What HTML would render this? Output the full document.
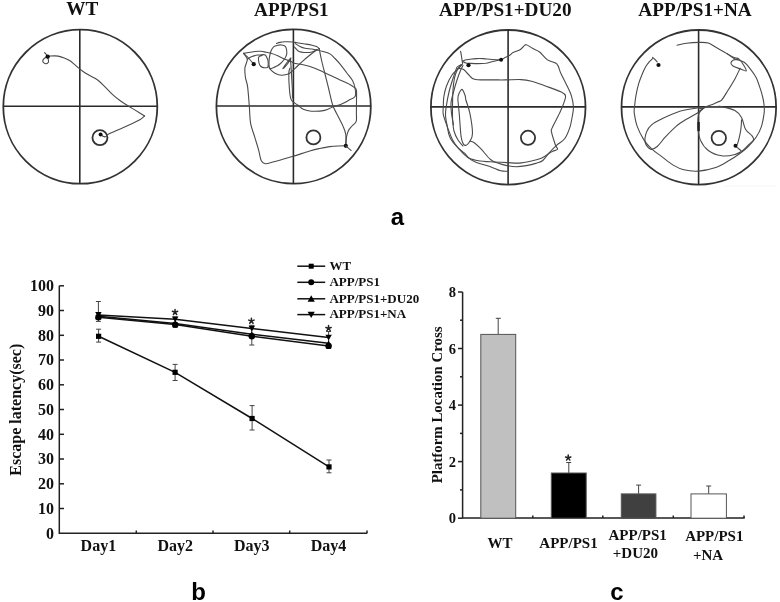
<!DOCTYPE html>
<html><head><meta charset="utf-8">
<style>
html,body{margin:0;padding:0;background:#fff;width:780px;height:602px;overflow:hidden}
svg{display:block;will-change:transform}
.t{font-family:"Liberation Serif",serif;font-weight:bold;fill:#111}
.s{font-family:"Liberation Sans",sans-serif;font-weight:bold;fill:#000}
.ax{stroke:#222;stroke-width:1.5;fill:none}
.cir{stroke:#333;stroke-width:1.8;fill:none}
.q{stroke:#2a2a2a;stroke-width:1.6;fill:none}
.tr{stroke:#4a4a4a;stroke-width:1.1;fill:none;stroke-linejoin:round;stroke-linecap:round}
.ln{stroke:#111;stroke-width:1.5;fill:none}
.eb{stroke:#444;stroke-width:1;fill:none}
</style></head><body>
<svg width="780" height="602" viewBox="0 0 780 602">
<text class="t" x="82.2" y="14.7" font-size="19.2" text-anchor="middle">WT</text>
<text class="t" x="291.4" y="15.8" font-size="19.2" text-anchor="middle">APP/PS1</text>
<text class="t" x="505.3" y="15.8" font-size="19.2" text-anchor="middle">APP/PS1+DU20</text>
<text class="t" x="695" y="15.8" font-size="19.2" text-anchor="middle">APP/PS1+NA</text>
<g>
<circle class="cir" cx="80.3" cy="106.7" r="77"/>
<line class="q" x1="3.299999999999997" y1="106.2" x2="157.3" y2="106.2"/>
<line class="q" x1="79.8" y1="29.700000000000003" x2="79.8" y2="183.7"/>
<circle class="cir" cx="99.95" cy="137.7" r="7.5" stroke-width="1.9"/>
<path class="tr" d="M44.6 52.6 C44.9 52.9 45.8 54.0 46.3 54.6 C46.8 55.2 47.5 56.2 47.7 56.5" />
<path class="tr" d="M47.5 56.8 C47.0 57.0 45.3 57.7 44.5 58.3 C43.7 58.9 42.9 59.9 42.8 60.6 C42.6 61.3 43.0 62.2 43.6 62.7 C44.2 63.2 45.4 63.9 46.2 63.8 C47.0 63.7 48.0 63.0 48.4 62.3 C48.8 61.6 48.4 60.5 48.3 59.6 C48.2 58.8 47.7 57.6 47.6 57.2" />
<path class="tr" d="M48.5 56.4 C48.8 56.3 49.5 56.1 50.4 56.0 C51.3 55.9 52.7 55.9 54.0 55.9 C55.3 55.9 56.4 55.8 58.1 56.1 C59.8 56.5 62.3 57.3 64.2 58.0 C66.1 58.7 67.9 59.5 69.6 60.5 C71.3 61.5 72.8 63.0 74.2 64.2 C75.6 65.4 76.7 66.5 78.1 67.7 C79.5 68.9 80.9 70.0 82.7 71.2 C84.5 72.4 86.8 73.8 88.8 75.0 C90.8 76.2 93.2 77.2 95.0 78.3 C96.8 79.4 97.8 80.1 99.5 81.5 C101.2 82.9 102.8 84.7 105.0 86.8 C107.2 88.9 109.9 92.0 112.4 94.3 C114.9 96.6 117.4 98.6 119.9 100.5 C122.4 102.4 124.9 103.9 127.4 105.5 C129.9 107.1 131.9 108.2 134.8 109.9 C137.7 111.7 143.0 115.0 144.6 116.0" />
<path class="tr" d="M144.6 116.0 C143.8 116.6 141.9 118.5 139.8 119.8 C137.8 121.0 135.2 122.2 132.3 123.5 C129.4 124.8 125.3 126.6 122.4 127.9 C119.5 129.2 117.2 130.3 114.9 131.3 C112.6 132.3 110.3 133.1 108.7 134.0 C107.1 134.9 106.5 136.4 105.5 136.8 C104.5 137.2 103.6 136.6 102.8 136.2 C102.0 135.8 101.0 134.9 100.6 134.6" />
<circle cx="47.7" cy="56.6" r="2.2" fill="#111"/>
<circle cx="100.6" cy="134.5" r="2.0" fill="#111"/>
</g>
<g>
<circle class="cir" cx="293.6" cy="106.5" r="77.2"/>
<line class="q" x1="216.40000000000003" y1="106.0" x2="370.8" y2="106.0"/>
<line class="q" x1="293.4" y1="29.299999999999997" x2="293.4" y2="183.7"/>
<circle class="cir" cx="313.4" cy="137.4" r="7.0" stroke-width="1.6"/>
<path class="tr" d="M345.8 145.8 C344.5 145.8 340.6 145.9 338.0 146.0 C335.4 146.1 333.1 146.2 329.9 146.6 C326.7 147.0 322.4 147.9 319.0 148.6 C315.6 149.3 314.0 149.7 309.7 151.0 C305.4 152.3 297.7 154.9 293.1 156.3 C288.5 157.7 285.2 158.6 282.0 159.5 C278.8 160.4 276.7 161.1 273.9 161.8 C271.1 162.5 267.3 164.0 265.2 163.8 C263.1 163.6 262.3 162.8 261.2 160.5 C260.1 158.2 259.7 153.9 258.6 149.9 C257.5 145.9 255.9 141.0 254.6 136.6 C253.3 132.2 251.5 128.4 250.6 123.3 C249.7 118.2 249.8 111.9 249.3 105.8 C248.8 99.7 248.2 91.3 247.6 86.6 C246.9 81.8 245.8 80.4 245.4 77.3 C245.0 74.2 244.6 71.0 244.9 68.0 C245.2 65.0 247.5 61.7 247.3 59.3 C247.1 56.9 244.2 54.4 243.6 53.4" />
<path class="tr" d="M243.6 53.4 C244.7 53.2 248.1 52.6 250.0 52.3 C251.9 52.0 253.2 51.7 255.0 51.5 C256.8 51.3 259.2 51.2 261.0 51.3 C262.8 51.4 264.3 51.9 266.0 52.2 C267.7 52.5 268.9 52.7 271.0 53.3 C273.1 53.9 276.0 55.0 278.3 56.0 C280.6 57.0 282.8 58.4 284.9 59.3 C287.0 60.2 289.4 60.6 290.9 61.3 C292.4 61.9 292.1 62.7 294.0 63.2 C295.9 63.7 299.3 64.0 302.0 64.5 C304.7 65.0 307.0 65.5 310.0 66.5 C313.0 67.5 316.7 69.0 320.0 70.5 C323.3 72.0 326.6 73.6 329.9 75.2 C333.2 76.8 336.7 78.5 340.0 80.0 C343.3 81.5 347.5 83.3 349.8 84.5 C352.1 85.7 352.7 86.2 353.8 87.1 C354.9 88.0 355.9 87.8 356.4 90.0 C356.8 92.2 356.5 96.3 356.5 100.0 C356.5 103.7 356.4 108.5 356.4 112.0 C356.3 115.5 356.9 119.0 356.2 121.3 C355.5 123.6 353.3 124.5 352.0 126.0 C350.7 127.5 349.4 128.7 348.5 130.6 C347.6 132.5 346.9 134.7 346.5 137.2 C346.1 139.7 345.9 144.4 345.8 145.8" />
<path class="tr" d="M243.6 53.4 C244.3 54.1 246.7 56.1 248.0 57.5 C249.3 58.9 250.6 60.4 251.5 61.5 C252.4 62.6 253.3 63.8 253.7 64.2" />
<path class="tr" d="M247.3 59.3 C248.1 58.8 250.2 57.2 252.0 56.5 C253.8 55.8 256.3 55.2 258.0 55.0 C259.7 54.8 261.3 55.4 262.0 55.5" />
<path class="tr" d="M262.0 55.5 C261.4 55.8 259.1 56.1 258.6 57.3 C258.1 58.5 258.6 61.0 258.9 62.5 C259.2 64.0 259.7 65.2 260.5 66.0 C261.3 66.8 262.3 67.4 263.5 67.6 C264.7 67.8 266.8 68.1 267.6 67.3 C268.4 66.5 268.2 64.3 268.2 63.0 C268.2 61.7 268.1 60.6 267.6 59.3 C267.1 58.0 266.4 55.8 265.3 55.0 C264.2 54.2 261.7 54.8 261.0 54.8" />
<path class="tr" d="M269.3 58.0 C269.6 56.9 270.1 53.4 270.8 51.5 C271.5 49.6 272.4 47.9 273.6 46.9 C274.8 45.9 276.7 45.5 278.0 45.2 C279.3 44.9 280.4 44.8 281.6 45.0 C282.8 45.2 284.5 45.5 285.3 46.3 C286.1 47.1 286.4 48.6 286.6 50.0 C286.8 51.4 287.0 53.1 286.6 54.6 C286.2 56.1 285.3 57.8 284.3 59.3 C283.3 60.8 281.7 62.4 280.5 63.5 C279.3 64.6 278.7 65.1 277.0 65.9 C275.3 66.8 271.6 68.8 270.3 68.6 C269.0 68.4 269.2 66.4 269.0 64.6 C268.8 62.8 269.2 59.1 269.3 58.0" />
<path class="tr" d="M268.5 66.0 C268.8 66.6 269.2 68.2 270.3 69.4 C271.4 70.6 273.1 72.2 275.0 73.2 C276.9 74.2 279.4 75.1 281.6 75.2 C283.8 75.3 286.4 74.8 288.2 74.1 C290.0 73.4 290.9 72.3 292.2 71.2 C293.5 70.1 294.1 69.3 296.0 67.5 C297.9 65.7 301.0 62.7 303.3 60.6 C305.6 58.5 307.8 56.8 310.0 55.0 C312.2 53.2 315.5 50.8 316.6 50.0" />
<path class="tr" d="M282.9 68.6 C283.3 67.9 284.5 65.9 285.5 64.5 C286.5 63.1 288.1 61.1 289.0 60.0 C289.9 58.9 291.0 57.6 290.9 58.0 C290.8 58.4 289.6 60.9 288.5 62.5 C287.4 64.1 285.4 66.5 284.5 67.5 C283.6 68.5 283.2 68.4 282.9 68.6" />
<path class="tr" d="M276.5 43.5 C277.1 43.3 278.6 42.7 280.0 42.4 C281.4 42.1 282.8 41.9 284.9 41.8 C287.0 41.7 290.9 41.8 292.9 42.0 C294.9 42.2 295.0 42.5 297.0 42.8 C299.0 43.1 302.5 43.6 305.0 44.0 C307.5 44.4 310.1 44.8 312.0 45.2 C313.9 45.6 315.4 46.0 316.6 46.6 C317.8 47.2 318.8 48.3 319.2 48.6" />
<path class="tr" d="M295.3 43.6 C296.1 44.1 298.4 45.7 300.0 46.5 C301.6 47.3 303.0 47.9 305.0 48.3 C307.0 48.7 310.1 48.7 312.0 49.0 C313.9 49.3 315.4 50.1 316.6 50.0 C317.8 49.9 318.8 48.8 319.2 48.6" />
<path class="tr" d="M294.5 47.0 C295.2 47.8 297.2 50.6 299.0 51.5 C300.8 52.4 302.8 52.4 305.0 52.5 C307.2 52.6 309.9 52.5 312.0 52.0 C314.1 51.5 316.6 49.9 317.5 49.5" />
<path class="tr" d="M319.2 48.6 C319.6 50.5 320.6 56.0 321.5 60.0 C322.4 64.0 323.4 67.8 324.6 72.5 C325.8 77.2 327.2 82.7 328.5 88.0 C329.8 93.3 331.2 100.2 332.5 104.4 C333.8 108.6 334.7 109.6 336.5 113.3 C338.3 117.0 341.6 123.0 343.2 126.6 C344.8 130.2 345.4 131.4 345.8 134.6 C346.2 137.8 345.8 143.9 345.8 145.8" />
<path class="tr" d="M316.6 50.0 C317.7 50.2 320.8 50.9 323.0 51.5 C325.2 52.1 327.9 52.7 329.9 53.9 C331.9 55.1 333.2 56.7 335.0 58.5 C336.8 60.3 338.6 62.3 340.5 64.6 C342.4 66.9 344.5 69.8 346.5 72.5 C348.5 75.2 351.1 77.8 352.5 80.5 C353.9 83.2 354.7 85.8 355.1 88.5 C355.5 91.2 356.2 94.4 355.1 96.4 C354.0 98.4 350.9 99.1 348.5 100.4 C346.1 101.8 342.9 103.5 340.5 104.5 C338.1 105.5 336.5 105.4 333.9 106.4 C331.2 107.4 328.4 109.6 324.6 110.4 C320.8 111.2 314.9 111.4 311.3 111.2 C307.8 111.0 305.5 110.3 303.3 109.3 C301.1 108.3 300.0 106.9 298.0 105.3 C296.0 103.7 292.8 102.5 291.4 99.9 C290.0 97.4 289.9 94.4 289.5 90.0 C289.1 85.6 288.7 77.0 288.8 73.3 C288.9 69.6 289.8 68.9 290.0 68.0" />
<path class="tr" d="M290.5 58.5 C290.6 59.8 290.8 63.2 291.0 66.0 C291.2 68.8 291.3 71.3 291.5 75.0 C291.7 78.7 292.1 84.2 292.3 88.0 C292.5 91.8 292.5 96.3 292.5 98.0" />
<circle cx="253.7" cy="64.2" r="2.1" fill="#111"/>
<circle cx="345.8" cy="145.8" r="2.1" fill="#111"/>
<path class="tr" d="M345.8 145.8 C346.2 146.2 347.6 147.4 348.5 148.2 C349.4 149.0 350.7 150.1 351.1 150.5" />
</g>
<g>
<circle class="cir" cx="508.2" cy="107.3" r="77.3"/>
<line class="q" x1="430.9" y1="106.9" x2="585.5" y2="106.9"/>
<line class="q" x1="508.1" y1="30.0" x2="508.1" y2="184.6"/>
<circle class="cir" cx="528.0" cy="137.8" r="7.1" stroke-width="1.6"/>
<path class="tr" d="M460.6 51.3 C460.8 52.2 461.3 54.9 461.6 57.0 C461.9 59.1 462.4 62.8 462.6 63.9" />
<path class="tr" d="M462.6 61.3 C463.2 61.0 464.8 60.1 466.0 59.8 C467.2 59.5 468.2 59.5 469.9 59.3 C471.6 59.1 473.8 58.7 476.0 58.6 C478.2 58.5 480.5 58.5 483.2 58.6 C485.9 58.8 489.0 59.3 492.0 59.5 C495.0 59.7 498.9 60.0 501.1 59.7 C503.3 59.4 503.6 58.2 505.0 57.5 C506.4 56.8 508.4 56.1 509.7 55.3 C511.0 54.5 511.4 53.5 513.0 52.6 C514.6 51.7 517.9 50.9 519.6 50.0 C521.3 49.1 521.9 47.9 523.0 47.0 C524.1 46.1 524.6 44.4 526.3 44.7 C527.9 45.0 530.7 47.4 532.9 48.6 C535.1 49.8 537.2 50.1 539.6 52.0 C542.0 53.9 544.6 57.9 547.5 59.9 C550.4 61.9 554.6 61.7 556.8 63.9 C559.0 66.1 559.2 69.9 560.8 73.2 C562.3 76.5 564.3 80.1 566.1 83.9 C567.9 87.7 570.2 92.0 571.4 95.8 C572.6 99.5 573.2 103.5 573.4 106.4 C573.6 109.3 573.3 109.9 572.8 113.3 C572.2 116.7 571.4 122.4 570.1 126.6 C568.8 130.8 567.0 135.4 564.8 138.5 C562.6 141.6 559.4 142.8 556.8 145.2 C554.1 147.6 551.2 150.6 548.9 153.2 C546.6 155.8 544.8 158.8 542.8 160.5 C540.8 162.2 539.4 162.2 536.7 163.1 C534.0 163.9 529.8 165.0 526.4 165.6 C523.0 166.2 519.5 166.7 516.2 166.7 C513.0 166.7 510.0 166.2 506.9 165.6 C503.8 165.0 500.4 164.1 497.7 163.1 C495.0 162.1 493.4 162.0 490.5 159.5 C487.6 157.0 483.1 151.0 480.3 148.2 C477.5 145.4 475.6 143.7 473.9 142.5 C472.2 141.3 470.6 141.4 469.9 141.2" />
<path class="tr" d="M462.6 61.3 C463.2 61.6 464.8 62.7 466.0 63.0 C467.2 63.3 467.9 63.2 469.9 63.3 C471.9 63.4 475.4 63.6 478.0 63.6 C480.6 63.6 483.3 63.6 485.8 63.3 C488.3 62.9 490.4 62.1 493.0 61.5 C495.6 60.9 499.8 60.0 501.1 59.7" />
<path class="tr" d="M461.5 64.5 C460.7 65.1 456.3 67.1 456.6 67.9 C456.9 68.7 461.3 68.2 463.2 69.2 C465.1 70.2 466.4 72.5 468.0 74.0 C469.6 75.5 470.8 77.5 472.5 78.5 C474.2 79.5 476.2 79.6 478.0 79.8 C479.8 80.0 480.4 79.9 483.2 79.9 C486.0 79.9 491.4 79.9 495.0 79.9 C498.6 79.9 500.7 80.0 505.0 79.9 C509.3 79.9 516.6 79.4 521.0 79.6 C525.4 79.8 527.6 80.2 531.6 81.2 C535.6 82.2 540.0 84.0 544.9 85.8 C549.8 87.6 557.4 90.1 560.8 91.8 C564.2 93.5 565.0 93.8 565.5 95.8 C566.0 97.8 564.3 101.4 563.5 103.8 C562.7 106.2 561.7 108.4 560.8 110.4 C559.9 112.4 559.6 113.0 558.2 115.9 C556.8 118.8 553.3 125.2 552.2 127.9 C551.1 130.6 551.0 129.0 551.5 131.9 C552.0 134.8 554.5 142.3 555.5 145.2 C556.5 148.1 558.0 148.2 557.5 149.2 C557.0 150.2 554.0 150.6 552.8 151.2 C551.5 151.8 551.8 151.7 550.0 152.8 C548.2 153.9 544.9 156.6 541.8 158.0 C538.7 159.4 535.3 160.2 531.5 161.0 C527.7 161.8 523.3 162.8 519.2 163.1 C515.1 163.4 511.7 162.8 506.9 162.6 C502.1 162.4 494.9 162.1 490.5 161.8 C486.1 161.5 483.7 161.6 480.3 161.0 C476.9 160.4 472.5 159.8 469.9 158.5 C467.3 157.2 466.8 155.2 464.6 153.2 C462.4 151.2 459.1 149.2 456.6 146.5 C454.2 143.8 451.4 140.5 449.9 137.2 C448.3 133.9 448.0 130.3 447.3 126.6 C446.6 122.9 445.6 118.6 445.5 115.0 C445.4 111.4 445.9 108.8 446.5 105.0 C447.1 101.2 448.0 96.2 449.0 92.0 C450.0 87.8 451.2 84.0 452.5 80.0 C453.8 76.0 455.9 69.9 456.6 67.9" />
<path class="tr" d="M462.5 64.0 C461.8 64.8 460.2 66.7 458.5 68.5 C456.8 70.3 454.0 72.1 452.0 75.0 C450.0 77.9 447.9 82.3 446.5 86.0 C445.1 89.7 444.3 93.6 443.8 97.0 C443.3 100.4 443.4 103.7 443.3 106.6 C443.2 109.5 442.6 111.3 443.3 114.6 C444.0 117.9 445.8 122.4 447.3 126.6 C448.9 130.8 450.6 136.1 452.6 139.9 C454.6 143.7 456.8 146.3 459.2 149.2 C461.6 152.1 464.3 154.9 467.2 157.1 C470.1 159.3 472.7 160.9 476.5 162.5 C480.3 164.1 485.8 165.0 489.8 166.4 C493.9 167.8 497.8 170.0 500.8 170.8 C503.8 171.6 506.8 171.2 508.0 171.3" />
<path class="tr" d="M461.0 65.0 C460.4 65.8 458.6 67.3 457.5 69.5 C456.4 71.7 455.2 74.6 454.5 78.0 C453.8 81.4 453.3 85.5 453.0 90.0 C452.7 94.5 452.6 100.0 452.5 105.0 C452.4 110.0 452.4 115.4 452.6 119.7 C452.9 124.0 453.1 127.6 454.0 131.0 C454.9 134.4 456.5 137.5 458.0 140.0 C459.5 142.5 462.2 145.0 463.0 146.0" />
<path class="tr" d="M463.0 65.5 C462.6 66.3 461.5 68.1 460.5 70.5 C459.5 72.9 458.2 76.4 457.0 80.0 C455.8 83.6 454.5 88.2 453.5 92.0 C452.5 95.8 451.3 99.5 451.0 103.0 C450.7 106.5 451.1 109.6 451.5 113.3 C451.9 117.0 453.2 123.0 453.5 125.0" />
<path class="tr" d="M457.9 100.0 C457.9 99.3 457.8 97.4 458.2 95.8 C458.6 94.2 459.9 91.5 460.6 90.5 C461.3 89.5 461.8 88.9 462.6 89.8 C463.4 90.7 464.6 94.1 465.2 95.8 C465.8 97.5 465.1 97.1 465.9 100.0 C466.7 102.9 468.8 107.8 469.9 113.3 C471.0 118.8 472.5 128.5 472.5 133.2 C472.5 137.8 471.2 139.2 469.9 141.2 C468.6 143.2 466.1 145.9 464.6 145.2 C463.2 144.5 462.1 142.5 461.2 137.2 C460.3 131.9 459.8 119.5 459.2 113.3 C458.6 107.1 458.1 102.2 457.9 100.0" />
<circle cx="468.5" cy="65.2" r="2.1" fill="#111"/>
<circle cx="501.1" cy="59.7" r="2.0" fill="#111"/>
</g>
<g>
<circle class="cir" cx="698.8" cy="107.3" r="77.3"/>
<line class="q" x1="621.5" y1="106.9" x2="776.0999999999999" y2="106.9"/>
<line class="q" x1="698.6" y1="30.0" x2="698.6" y2="184.6"/>
<circle class="cir" cx="718.8" cy="138.0" r="7.2" stroke-width="1.6"/>
<path class="tr" d="M652.6 57.3 C653.0 57.7 654.2 58.7 655.0 59.5 C655.8 60.3 656.8 61.5 657.2 61.9" />
<path class="tr" d="M652.6 58.6 C652.0 59.1 650.4 60.5 649.2 61.9 C648.0 63.3 646.6 65.1 645.5 67.0 C644.4 68.9 643.8 70.4 642.6 73.2 C641.5 76.0 639.7 80.1 638.6 83.9 C637.5 87.7 636.6 92.0 635.9 95.8 C635.2 99.5 634.9 103.5 634.6 106.4 C634.3 109.3 633.8 109.9 634.3 113.3 C634.8 116.7 635.7 122.2 637.3 126.6 C638.9 131.0 641.5 136.1 643.9 139.9 C646.3 143.7 648.8 146.3 651.9 149.2 C655.0 152.1 659.0 154.4 662.5 157.1 C666.0 159.8 669.7 163.0 673.2 165.1 C676.8 167.2 679.6 168.8 683.8 169.8 C688.0 170.8 693.2 171.4 698.4 171.1 C703.6 170.8 709.9 169.5 714.9 167.8 C719.9 166.1 724.0 163.5 728.2 161.1 C732.4 158.7 736.9 155.6 740.2 153.2 C743.5 150.8 745.6 149.2 748.2 146.5 C750.9 143.8 753.9 140.5 756.1 137.2 C758.3 133.9 760.1 130.6 761.4 126.6 C762.7 122.6 763.6 116.8 764.1 113.3 C764.6 109.8 764.3 108.0 764.1 105.4 C763.9 102.8 763.5 100.4 762.8 97.5 C762.1 94.6 761.2 91.5 760.1 88.2 C759.0 84.9 757.7 80.6 756.1 77.5 C754.5 74.4 752.8 72.1 750.8 69.6 C748.8 67.0 746.9 64.0 744.2 62.2 C741.6 60.4 737.8 60.3 734.9 58.9 C732.0 57.5 730.0 55.5 726.9 53.6 C723.8 51.7 719.4 49.4 716.3 47.6 C713.2 45.8 711.2 43.9 708.3 43.0 C705.4 42.1 702.6 42.4 699.0 42.4 C695.4 42.4 690.0 42.8 686.4 43.3 C682.8 43.8 678.6 45.0 677.1 45.3" />
<path class="tr" d="M726.9 53.6 C728.1 54.2 732.0 56.6 734.0 57.5 C736.0 58.4 737.3 57.6 738.9 58.9 C740.5 60.1 742.3 63.0 743.5 65.0 C744.7 67.0 746.8 70.2 746.2 70.9 C745.7 71.6 742.4 69.7 740.2 68.9 C738.0 68.1 734.5 67.0 733.0 66.0 C731.5 65.0 730.8 63.9 730.9 62.9 C731.0 61.9 732.2 60.7 733.5 60.0 C734.8 59.3 738.0 59.1 738.9 58.9" />
<path class="tr" d="M740.2 68.2 C739.3 70.0 737.1 74.9 734.9 78.9 C732.7 82.9 729.1 88.6 726.9 92.1 C724.7 95.6 723.1 98.4 721.6 100.1 C720.1 101.8 718.9 101.4 717.6 102.1 C716.3 102.8 715.6 103.3 713.6 104.1 C711.6 104.9 707.8 106.1 705.6 106.8 C703.4 107.5 701.7 108.2 700.3 108.4 C698.9 108.6 700.5 107.5 697.1 108.0 C693.7 108.5 685.6 109.5 679.8 111.3 C674.0 113.1 667.1 116.4 662.5 118.6 C657.9 120.8 654.5 122.4 651.9 124.6 C649.2 126.8 647.7 128.9 646.6 131.9 C645.5 134.9 644.5 139.6 645.2 142.5 C645.9 145.4 648.6 148.5 650.6 149.2 C652.6 149.9 654.8 148.5 657.2 146.5 C659.6 144.5 662.1 140.5 665.2 137.2 C668.3 133.9 672.3 129.6 675.8 126.6 C679.3 123.6 682.8 121.5 686.4 119.3 C690.0 117.1 694.8 114.8 697.1 113.3 C699.4 111.8 698.9 111.6 700.3 110.5 C701.7 109.4 704.7 107.4 705.6 106.8" />
<path class="tr" d="M705.6 106.6 C707.2 106.6 712.3 106.6 715.0 106.6 C717.7 106.6 718.3 105.9 721.6 106.6 C724.9 107.3 731.6 108.8 734.9 110.6 C738.2 112.4 739.7 114.4 741.5 117.5 C743.3 120.6 743.7 126.1 745.5 129.2 C747.3 132.3 750.8 134.1 752.1 135.9 C753.4 137.7 754.1 138.4 753.5 139.9 C752.9 141.4 750.0 143.4 748.2 145.2 C746.4 147.0 745.0 148.9 742.8 150.5 C740.6 152.1 738.4 153.6 734.9 154.5 C731.4 155.4 726.0 156.5 721.6 155.8 C717.2 155.1 711.8 153.2 708.3 150.5 C704.8 147.8 702.0 143.9 700.3 139.9 C698.6 135.9 698.1 131.0 697.9 126.6 C697.7 122.2 697.7 116.6 699.0 113.3 C700.3 110.0 704.5 107.7 705.6 106.6" />
<path class="tr" d="M741.5 119.9 C741.5 120.9 741.4 123.8 741.2 126.0 C741.0 128.2 740.8 130.2 740.2 133.2 C739.6 136.2 738.3 141.8 737.5 143.9 C736.7 146.0 735.8 145.5 735.5 145.8" />
<path class="tr" d="M735.5 145.8 C735.9 146.2 737.1 147.4 738.0 148.2 C738.9 149.0 740.3 150.1 740.8 150.5" />
<line x1="698.6" y1="122" x2="698.6" y2="131" stroke="#222" stroke-width="2.4"/>
<circle cx="658.5" cy="65.0" r="2.1" fill="#111"/>
<circle cx="735.5" cy="145.8" r="2.0" fill="#111"/>
</g>
<line x1="724" y1="186" x2="776" y2="186" stroke="#f5f5f5" stroke-width="1"/>
<text class="s" x="397.5" y="224.8" font-size="24" text-anchor="middle">a</text>
<text class="s" x="198.5" y="600" font-size="24" text-anchor="middle">b</text>
<text class="s" x="617" y="600.4" font-size="24" text-anchor="middle">c</text>
<g id="chartb">
<text class="t" x="54" y="538.7" font-size="16" text-anchor="end">0</text>
<line class="ax" x1="59.3" y1="508.5" x2="64" y2="508.5"/>
<text class="t" x="54" y="513.9" font-size="16" text-anchor="end">10</text>
<line class="ax" x1="59.3" y1="483.8" x2="64" y2="483.8"/>
<text class="t" x="54" y="489.2" font-size="16" text-anchor="end">20</text>
<line class="ax" x1="59.3" y1="459.0" x2="64" y2="459.0"/>
<text class="t" x="54" y="464.4" font-size="16" text-anchor="end">30</text>
<line class="ax" x1="59.3" y1="434.3" x2="64" y2="434.3"/>
<text class="t" x="54" y="439.7" font-size="16" text-anchor="end">40</text>
<line class="ax" x1="59.3" y1="409.5" x2="64" y2="409.5"/>
<text class="t" x="54" y="414.9" font-size="16" text-anchor="end">50</text>
<line class="ax" x1="59.3" y1="384.8" x2="64" y2="384.8"/>
<text class="t" x="54" y="390.2" font-size="16" text-anchor="end">60</text>
<line class="ax" x1="59.3" y1="360.0" x2="64" y2="360.0"/>
<text class="t" x="54" y="365.4" font-size="16" text-anchor="end">70</text>
<line class="ax" x1="59.3" y1="335.3" x2="64" y2="335.3"/>
<text class="t" x="54" y="340.7" font-size="16" text-anchor="end">80</text>
<line class="ax" x1="59.3" y1="310.5" x2="64" y2="310.5"/>
<text class="t" x="54" y="315.9" font-size="16" text-anchor="end">90</text>
<line class="ax" x1="59.3" y1="285.8" x2="64" y2="285.8"/>
<text class="t" x="54" y="291.2" font-size="16" text-anchor="end">100</text>
<path class="ax" d="M59.3 285.8 V533.3 H367.2"/>
<line class="ax" x1="136.3" y1="533.3" x2="136.3" y2="530.5" stroke-width="1.2"/>
<line class="ax" x1="213" y1="533.3" x2="213" y2="530.5" stroke-width="1.2"/>
<line class="ax" x1="289.7" y1="533.3" x2="289.7" y2="530.5" stroke-width="1.2"/>
<line class="ax" x1="367" y1="533.3" x2="367" y2="530.5" stroke-width="1.2"/>
<text class="t" x="98.4" y="551.3" font-size="16" text-anchor="middle">Day1</text>
<text class="t" x="175.2" y="551.3" font-size="16" text-anchor="middle">Day2</text>
<text class="t" x="251.8" y="551.3" font-size="16" text-anchor="middle">Day3</text>
<text class="t" x="328.6" y="551.3" font-size="16" text-anchor="middle">Day4</text>
<text class="t" transform="translate(21.3 409.7) rotate(-90)" font-size="16" text-anchor="middle">Escape latency(sec)</text>
<path class="eb" d="M98.6 329.2 V342.1 M96.1 329.2 H101.1 M96.1 342.1 H101.1"/>
<path class="eb" d="M175.1 364.4 V380.5 M172.6 364.4 H177.6 M172.6 380.5 H177.6"/>
<path class="eb" d="M252.1 405.6 V430 M249.6 405.6 H254.6 M249.6 430 H254.6"/>
<path class="eb" d="M329 460 V472.8 M326.5 460 H331.5 M326.5 472.8 H331.5"/>
<path class="eb" d="M98.4 301.5 V321.4 M95.9 301.5 H100.9 M95.9 321.4 H100.9"/>
<path class="eb" d="M175.2 317 V327.5 M172.7 317 H177.7 M172.7 327.5 H177.7"/>
<path class="eb" d="M251.8 325.3 V345 M249.3 325.3 H254.3 M249.3 345 H254.3"/>
<path class="eb" d="M328.6 331.5 V348.5 M326.1 331.5 H331.1 M326.1 348.5 H331.1"/>
<path class="ln" d="M98.6 336.3 L175.1 372.3 L252.1 418.5 L329 466.9"/>
<path class="ln" d="M98.4 315 L175.2 319.3 L251.8 328.6 L328.6 337.6"/>
<path class="ln" d="M98.4 316.3 L175.2 323.6 L251.8 334.2 L328.6 343.3"/>
<path class="ln" d="M98.4 317.3 L175.2 324.6 L251.8 336.2 L328.6 345.9"/>
<rect x="96.0" y="333.7" width="5.2" height="5.2" fill="#000"/>
<rect x="172.5" y="369.7" width="5.2" height="5.2" fill="#000"/>
<rect x="249.5" y="415.9" width="5.2" height="5.2" fill="#000"/>
<rect x="326.4" y="464.3" width="5.2" height="5.2" fill="#000"/>
<circle cx="98.4" cy="317.3" r="3.2" fill="#000"/>
<circle cx="175.2" cy="324.6" r="3.2" fill="#000"/>
<circle cx="251.8" cy="336.2" r="3.2" fill="#000"/>
<circle cx="328.6" cy="345.9" r="3.2" fill="#000"/>
<path d="M95.2 319.2 L101.6 319.2 L98.4 313.4Z" fill="#000"/>
<path d="M172.0 326.5 L178.4 326.5 L175.2 320.7Z" fill="#000"/>
<path d="M248.6 337.1 L255.0 337.1 L251.8 331.3Z" fill="#000"/>
<path d="M325.4 346.2 L331.8 346.2 L328.6 340.4Z" fill="#000"/>
<path d="M95.2 312.1 L101.6 312.1 L98.4 317.9Z" fill="#000"/>
<path d="M172.0 316.4 L178.4 316.4 L175.2 322.2Z" fill="#000"/>
<path d="M248.6 325.7 L255.0 325.7 L251.8 331.5Z" fill="#000"/>
<path d="M325.4 334.7 L331.8 334.7 L328.6 340.5Z" fill="#000"/>
<path d="M175.05 312.20 L175.05 309.40 M175.05 312.20 L177.71 311.33 M175.05 312.20 L176.70 314.47 M175.05 312.20 L173.40 314.47 M175.05 312.20 L172.39 311.33 " stroke="#222" stroke-width="1.5" stroke-linecap="round" fill="none"/>
<path d="M251.40 321.00 L251.40 318.20 M251.40 321.00 L254.06 320.13 M251.40 321.00 L253.05 323.27 M251.40 321.00 L249.75 323.27 M251.40 321.00 L248.74 320.13 " stroke="#222" stroke-width="1.5" stroke-linecap="round" fill="none"/>
<path d="M328.55 328.30 L328.55 325.50 M328.55 328.30 L331.21 327.43 M328.55 328.30 L330.20 330.57 M328.55 328.30 L326.90 330.57 M328.55 328.30 L325.89 327.43 " stroke="#222" stroke-width="1.5" stroke-linecap="round" fill="none"/>
<line class="ln" x1="297.3" y1="266.2" x2="325.2" y2="266.2"/>
<rect x="308.7" y="263.7" width="5" height="5" fill="#000"/>
<text class="t" x="329.4" y="270.0" font-size="13">WT</text>
<line class="ln" x1="297.3" y1="282.3" x2="325.2" y2="282.3"/>
<circle cx="311.2" cy="282.3" r="3" fill="#000"/>
<text class="t" x="329.4" y="286.1" font-size="13">APP/PS1</text>
<line class="ln" x1="297.3" y1="298.8" x2="325.2" y2="298.8"/>
<path d="M307.6 301.7 L314.8 301.7 L311.2 295.3Z" fill="#000"/>
<text class="t" x="329.4" y="302.6" font-size="13">APP/PS1+DU20</text>
<line class="ln" x1="297.3" y1="314.6" x2="325.2" y2="314.6"/>
<path d="M307.6 311.7 L314.8 311.7 L311.2 318.1Z" fill="#000"/>
<text class="t" x="329.4" y="318.4" font-size="13">APP/PS1+NA</text>
</g>
<g id="chartc">
<line class="ax" x1="458" y1="518.2" x2="462.6" y2="518.2"/>
<text class="t" x="456" y="523.4" font-size="14.5" text-anchor="end">0</text>
<line class="ax" x1="460" y1="489.9" x2="462.6" y2="489.9" stroke-width="1.2"/>
<line class="ax" x1="458" y1="461.6" x2="462.6" y2="461.6"/>
<text class="t" x="456" y="466.8" font-size="14.5" text-anchor="end">2</text>
<line class="ax" x1="460" y1="433.4" x2="462.6" y2="433.4" stroke-width="1.2"/>
<line class="ax" x1="458" y1="405.1" x2="462.6" y2="405.1"/>
<text class="t" x="456" y="410.3" font-size="14.5" text-anchor="end">4</text>
<line class="ax" x1="460" y1="376.8" x2="462.6" y2="376.8" stroke-width="1.2"/>
<line class="ax" x1="458" y1="348.5" x2="462.6" y2="348.5"/>
<text class="t" x="456" y="353.7" font-size="14.5" text-anchor="end">6</text>
<line class="ax" x1="460" y1="320.2" x2="462.6" y2="320.2" stroke-width="1.2"/>
<line class="ax" x1="458" y1="292.0" x2="462.6" y2="292.0"/>
<text class="t" x="456" y="297.2" font-size="14.5" text-anchor="end">8</text>
<path class="ax" d="M462.6 291.9 V518 H744.7"/>
<line class="ax" x1="532.8" y1="518" x2="532.8" y2="515.5" stroke-width="1.2"/>
<line class="ax" x1="602.8" y1="518" x2="602.8" y2="515.5" stroke-width="1.2"/>
<line class="ax" x1="673.3" y1="518" x2="673.3" y2="515.5" stroke-width="1.2"/>
<line class="ax" x1="744" y1="518" x2="744" y2="515.5" stroke-width="1.2"/>
<path class="eb" d="M498.2 334.4 V318.3 M495.8 318.3 H500.8" stroke="#222" stroke-width="1.5"/>
<rect x="480.8" y="334.4" width="34.9" height="183.8" fill="#c0c0c0" stroke="#555" stroke-width="1"/>
<path class="eb" d="M568.8 473.0 V462.5 M566.2 462.5 H571.2" stroke="#222" stroke-width="1.5"/>
<rect x="551.3" y="473.0" width="34.9" height="45.2" fill="#000" stroke="#555" stroke-width="1"/>
<path class="eb" d="M638.6 493.9 V485.1 M636.1 485.1 H641.1" stroke="#222" stroke-width="1.5"/>
<rect x="621.3" y="493.9" width="34.6" height="24.3" fill="#404040" stroke="#555" stroke-width="1"/>
<path class="eb" d="M708.7 493.9 V486.0 M706.2 486.0 H711.2" stroke="#222" stroke-width="1.5"/>
<rect x="691" y="493.9" width="35.4" height="24.3" fill="#fff" stroke="#555" stroke-width="1"/>
<path d="M568.20 457.80 L568.20 455.00 M568.20 457.80 L570.86 456.93 M568.20 457.80 L569.85 460.07 M568.20 457.80 L566.55 460.07 M568.20 457.80 L565.54 456.93 " stroke="#222" stroke-width="1.5" stroke-linecap="round" fill="none"/>
<text class="t" transform="translate(441.5 404.9) rotate(-90)" font-size="14.9" text-anchor="middle">Platform Location Cross</text>
<text class="t" x="499.9" y="547.7" font-size="15" text-anchor="middle">WT</text>
<text class="t" x="568.5" y="547.7" font-size="15" text-anchor="middle">APP/PS1</text>
<text class="t" x="637.7" y="540.2" font-size="15" text-anchor="middle">APP/PS1</text>
<text class="t" x="635.4" y="557.9" font-size="15" text-anchor="middle">+DU20</text>
<text class="t" x="714.3" y="540.7" font-size="15" text-anchor="middle">APP/PS1</text>
<text class="t" x="708" y="559.7" font-size="15" text-anchor="middle">+NA</text>
</g>
</svg>
</body></html>
